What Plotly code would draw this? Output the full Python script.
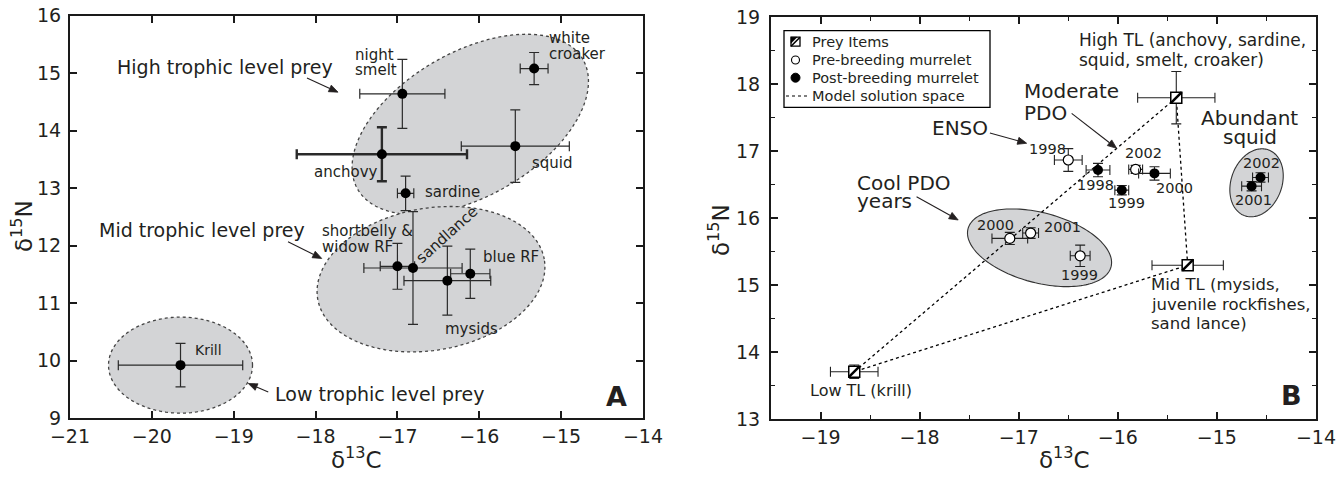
import numpy as np
import plotly.graph_objects as go

W, H = 1337, 481
FONT = "DejaVu Sans"
INK = "#231f20"

# ---------------- Panel A : prey isotope values ----------------
prey_names = ["Krill", "night smelt", "white croaker", "anchovy", "squid", "sardine",
              "shortbelly & widow RF", "sandlance", "mysids", "blue RF"]
prey_d13c = [-19.65, -16.94, -15.33, -17.19, -15.56, -16.90, -17.00, -16.81, -16.39, -16.11]
prey_d13c_sd = [0.76, 0.52, 0.17, 1.04, 0.66, 0.10, 0.21, 0.60, 0.53, 0.24]
prey_d15n = [9.92, 14.64, 15.08, 13.59, 13.73, 12.91, 11.64, 11.61, 11.39, 11.51]
prey_d15n_sd = [0.38, 0.60, 0.28, 0.47, 0.63, 0.30, 0.40, 0.98, 0.60, 0.43]
prey_bold_err = [False, False, False, True, False, False, False, False, False, False]

# ---------------- Panel B : trophic-level groups and murrelets ----------------
tl_names = ["High TL", "Mid TL", "Low TL"]
tl_d13c = [-15.41, -15.295, -18.66]
tl_d13c_sd = [0.39, 0.36, 0.24]
tl_d15n = [17.80, 15.30, 13.71]
tl_d15n_sd = [0.39, 0.03, 0.10]

pre_years = ["1998", "2002", "2000", "2001", "1999"]
pre_d13c = [-16.50, -15.82, -17.09, -16.88, -16.38]
pre_d13c_sd = [0.14, 0.07, 0.18, 0.08, 0.10]
pre_d15n = [16.87, 16.73, 15.70, 15.78, 15.44]
pre_d15n_sd = [0.17, 0.06, 0.09, 0.08, 0.16]

post_years = ["1998", "1999", "2000", "2002", "2001"]
post_d13c = [-16.20, -15.96, -15.63, -14.56, -14.65]
post_d13c_sd = [0.12, 0.07, 0.16, 0.08, 0.10]
post_d15n = [16.72, 16.42, 16.67, 16.61, 16.48]
post_d15n_sd = [0.10, 0.07, 0.10, 0.07, 0.07]

legend_labels = ["Prey Items", "Pre-breeding murrelet", "Post-breeding murrelet", "Model solution space"]

# axis layout (pixels) ----------------------------------------------------
A_X = (70, 643); A_Y = (15.7, 418.0)
B_X = (771, 1316); B_Y = (17.3, 419.3)
A_XR = [-21, -14]; A_YR = [9, 16]
B_XR = [-19.5, -14]; B_YR = [13, 19]

sxA = (A_X[1] - A_X[0]) / (A_XR[1] - A_XR[0]); syA = (A_Y[1] - A_Y[0]) / (A_YR[1] - A_YR[0])
sxB = (B_X[1] - B_X[0]) / (B_XR[1] - B_XR[0]); syB = (B_Y[1] - B_Y[0]) / (B_YR[1] - B_YR[0])
SCALE = {"x": (sxA, syA), "x2": (sxB, syB)}

def px(x):
    return x / W

def py(y):
    return 1 - y / H

fig = go.Figure()

# ---------- ellipses (group outlines) ----------
def ellipse_path(cx, cy, a_px, b_px, ang, sx, sy, n=160):
    t = np.linspace(0, 2 * np.pi, n)
    th = np.radians(ang)
    dx = a_px * np.cos(t) * np.cos(th) - b_px * np.sin(t) * np.sin(th)
    dy = a_px * np.cos(t) * np.sin(th) + b_px * np.sin(t) * np.cos(th)
    xs = cx + dx / sx
    ys = cy + dy / sy
    return "M " + " L ".join(f"{x:.4f},{y:.4f}" for x, y in zip(xs, ys)) + " Z"

groupsA = [(-16.11, 14.11, 130, 72, 30), (-16.59, 11.415, 115, 71, 10), (-19.65, 9.92, 72, 48, 0)]
groupsB = [(-16.79, 15.56, 74, 35, -15), (-14.60, 16.53, 35, 25.4, 70)]
shapes = []
for cx, cy, a, b, ang in groupsA:
    shapes.append(dict(type="path", path=ellipse_path(cx, cy, a, b, ang, sxA, syA), xref="x", yref="y",
                       fillcolor="#d3d4d6", line=dict(color="#444", width=1.3, dash="dot"), layer="below"))
for cx, cy, a, b, ang in groupsB:
    shapes.append(dict(type="path", path=ellipse_path(cx, cy, a, b, ang, sxB, syB), xref="x2", yref="y2",
                       fillcolor="#d3d4d6", line=dict(color="#333", width=1.1), layer="below"))

# ---------- Panel A traces ----------
for bold in (False, True):
    idx = [i for i, b in enumerate(prey_bold_err) if b == bold]
    fig.add_trace(go.Scatter(
        x=[prey_d13c[i] for i in idx], y=[prey_d15n[i] for i in idx],
        mode="markers", marker=dict(color="black", size=10),
        error_x=dict(type="data", array=[prey_d13c_sd[i] for i in idx], color="#2a2a2a",
                     thickness=2.4 if bold else 1.2, width=5),
        error_y=dict(type="data", array=[prey_d15n_sd[i] for i in idx], color="#2a2a2a",
                     thickness=2.4 if bold else 1.2, width=5),
        showlegend=False, xaxis="x", yaxis="y"))

# ---------- Panel B traces ----------
tri_x = [tl_d13c[2], tl_d13c[0], tl_d13c[1], tl_d13c[2]]
tri_y = [tl_d15n[2], tl_d15n[0], tl_d15n[1], tl_d15n[2]]
fig.add_trace(go.Scatter(x=tri_x, y=tri_y, mode="lines", name=legend_labels[3], showlegend=False,
                         line=dict(color="black", width=1.3, dash="dot"), xaxis="x2", yaxis="y2"))
fig.add_trace(go.Scatter(x=tl_d13c, y=tl_d15n, mode="markers", name=legend_labels[0], showlegend=False,
                         marker=dict(symbol="square", size=11, color="white", line=dict(color="black", width=1.5)),
                         error_x=dict(type="data", array=tl_d13c_sd, color="#222", thickness=1.1, width=5),
                         error_y=dict(type="data", array=tl_d15n_sd, color="#222", thickness=1.1, width=5),
                         xaxis="x2", yaxis="y2"))
fig.add_trace(go.Scatter(x=tl_d13c, y=tl_d15n, mode="markers", showlegend=False,
                         marker=dict(symbol="line-ne", size=11, color="black", line=dict(color="black", width=2.5)),
                         xaxis="x2", yaxis="y2"))
fig.add_trace(go.Scatter(x=pre_d13c, y=pre_d15n, mode="markers", name=legend_labels[1], showlegend=False,
                         marker=dict(symbol="circle", size=10, color="white", line=dict(color="black", width=1.2)),
                         error_x=dict(type="data", array=pre_d13c_sd, color="#222", thickness=1.1, width=5),
                         error_y=dict(type="data", array=pre_d15n_sd, color="#222", thickness=1.1, width=5),
                         xaxis="x2", yaxis="y2"))
fig.add_trace(go.Scatter(x=post_d13c, y=post_d15n, mode="markers", name=legend_labels[2], showlegend=False,
                         marker=dict(symbol="circle", size=10, color="black"),
                         error_x=dict(type="data", array=post_d13c_sd, color="#222", thickness=1.1, width=5),
                         error_y=dict(type="data", array=post_d15n_sd, color="#222", thickness=1.1, width=5),
                         xaxis="x2", yaxis="y2"))

# ---------- legend box (drawn in paper space) ----------
LG = dict(x0=784, x1=990, y0=30.7, y1=107.3, rows=[41.7, 60.0, 77.7, 96.0], sym_x=795.5, text_x=810)
shapes.append(dict(type="rect", xref="paper", yref="paper", x0=px(LG["x0"]), x1=px(LG["x1"]),
                   y0=py(LG["y1"]), y1=py(LG["y0"]), line=dict(color="black", width=1.3), fillcolor="white",
                   layer="above"))
r0, r1, r2, r3 = LG["rows"]
sx0 = LG["sym_x"]
# prey items symbol: hatched square
shapes.append(dict(type="rect", xref="paper", yref="paper", x0=px(sx0 - 4.5), x1=px(sx0 + 4.5),
                   y0=py(r0 + 4.5), y1=py(r0 - 4.5), line=dict(color="black", width=1.3), fillcolor="white",
                   layer="above"))
shapes.append(dict(type="path", xref="paper", yref="paper",
                   path=f"M {px(sx0-4.5)},{py(r0-4.5)} L {px(sx0+1.5)},{py(r0-4.5)} L {px(sx0-4.5)},{py(r0+1.5)} Z",
                   line=dict(color="black", width=0.5), fillcolor="black", layer="above"))
shapes.append(dict(type="line", xref="paper", yref="paper", x0=px(sx0 - 4.5), x1=px(sx0 + 4.5),
                   y0=py(r0 + 4.5), y1=py(r0 - 4.5), line=dict(color="black", width=1.6), layer="above"))
# pre-breeding: open circle
shapes.append(dict(type="circle", xref="paper", yref="paper", x0=px(sx0 - 4), x1=px(sx0 + 4),
                   y0=py(r1 + 4), y1=py(r1 - 4), line=dict(color="black", width=1.1), fillcolor="white",
                   layer="above"))
# post-breeding: filled circle
shapes.append(dict(type="circle", xref="paper", yref="paper", x0=px(sx0 - 4.5), x1=px(sx0 + 4.5),
                   y0=py(r2 + 4.5), y1=py(r2 - 4.5), line=dict(color="black", width=1), fillcolor="black",
                   layer="above"))
# model solution space: dotted line
shapes.append(dict(type="line", xref="paper", yref="paper", x0=px(786), x1=px(808),
                   y0=py(r3), y1=py(r3), line=dict(color="black", width=1.2, dash="dot"), layer="above"))

# ---------- annotations ----------
ann = []

for lbl, ry in zip(legend_labels, LG["rows"]):
    ann.append(dict(text=lbl, x=px(LG["text_x"]), y=py(ry), xref="paper", yref="paper", xanchor="left",
                    yanchor="middle", showarrow=False, font=dict(family=FONT, size=14.5, color=INK)))

def text(lines, x, y, ax="x", size=15, xanchor="left", pitch=16, angle=0, align="left"):
    if isinstance(lines, str):
        lines = [lines]
    n = len(lines)
    yr = "y" if ax == "x" else "y2"
    for i, ln in enumerate(lines):
        ann.append(dict(text=ln, x=x, y=y, xref=ax, yref=yr, yshift=((n - 1) / 2 - i) * pitch,
                        xanchor=xanchor, yanchor="middle", showarrow=False, textangle=angle, align=align,
                        font=dict(family=FONT, size=size, color=INK)))

def arrow(x0, y0, x1, y1, ax="x", head_len=9.0, head_half=3.6):
    """Pointer line with a filled triangular head, drawn as shapes in data space."""
    yr = "y" if ax == "x" else "y2"
    sx, sy = SCALE[ax]
    dxp, dyp = (x1 - x0) * sx, (y1 - y0) * sy
    L = np.hypot(dxp, dyp)
    ux, uy = dxp / L, dyp / L
    bx, by = x1 - ux * head_len / sx, y1 - uy * head_len / sy
    lx, ly = -uy * head_half / sx, ux * head_half / sy
    shapes.append(dict(type="line", xref=ax, yref=yr, x0=x0, y0=y0, x1=bx, y1=by,
                       line=dict(color=INK, width=1.1), layer="above"))
    shapes.append(dict(type="path", xref=ax, yref=yr,
                       path=f"M {x1},{y1} L {bx + lx},{by + ly} L {bx - lx},{by - ly} Z",
                       fillcolor=INK, line=dict(color=INK, width=0.8), layer="above"))

# Panel A
text("High trophic level prey", -20.45, 15.11, size=19)
arrow(-18.105, 14.915, -17.726, 14.67)
text("Mid trophic level prey", -20.674, 12.27, size=19)
arrow(-18.337, 12.065, -17.925, 11.776)
text("Low trophic level prey", -18.517, 9.425, size=19)
arrow(-18.578, 9.453, -18.822, 9.60)
text(["night", "smelt"], -17.543, 15.185, size=15, pitch=14.5)
text(["white", "croaker"], -15.173, 15.48, size=15, pitch=16)
text("anchovy", -18.047, 13.284, size=15)
text("squid", -15.381, 13.43, size=15)
text("sardine", -16.691, 12.935, size=15)
text(["shortbelly &", "widow RF"], -17.946, 12.112, size=15, pitch=15.5)
text("sandlance", -16.398, 12.18, size=15, xanchor="center", angle=-42)
text("blue RF", -15.979, 11.80, size=15)
text("mysids", -16.44, 10.557, size=15)
text("Krill", -19.494, 10.19, size=14)
text("<b>A</b>", -14.324, 9.366, size=27, xanchor="center")

# Panel B
text(["High TL (anchovy, sardine,", "squid, smelt, croaker)"], -16.41, 18.512, ax="x2", size=17, pitch=20)
text(["Moderate", "PDO"], -16.971, 17.743, ax="x2", size=20, pitch=22)
arrow(-16.466, 17.567, -16.012, 17.045, ax="x2")
text("ENSO", -17.897, 17.343, ax="x2", size=20)
arrow(-17.291, 17.273, -16.92, 17.12, ax="x2")
text(["Cool PDO", "years"], -18.654, 16.385, ax="x2", size=20, pitch=18)
arrow(-18.031, 16.322, -17.611, 15.975, ax="x2")
text(["Abundant", "squid"], -14.671, 17.355, ax="x2", size=20, pitch=18.5, xanchor="center", align="center")
for lbl, x, y in [("1998", -16.92, 17.03), ("1998", -16.433, 16.497), ("1999", -16.12, 16.224),
                  ("2002", -15.952, 16.97), ("2000", -15.635, 16.448), ("2002", -14.76, 16.83),
                  ("2001", -14.835, 16.273), ("2000", -17.442, 15.90), ("2001", -16.763, 15.875),
                  ("1999", -16.594, 15.154)]:
    text(lbl, x, y, ax="x2", size=14.5)
text("Low TL (krill)", -19.125, 13.437, ax="x2", size=16)
text(["Mid TL (mysids,", "juvenile rockfishes,", "sand lance)"], -15.686, 14.718, ax="x2", size=16.5, pitch=19.5)
text("<b>B</b>", -14.25, 13.36, ax="x2", size=27, xanchor="center")

# axis titles
for t, tx, ty, ang in [("δ<sup>15</sup>N", 22, 226, -90), ("δ<sup>13</sup>C", 356, 458, 0),
                        ("δ<sup>15</sup>N", 719, 230, -90), ("δ<sup>13</sup>C", 1064, 458, 0)]:
    ann.append(dict(text=t, x=px(tx), y=py(ty), xref="paper", yref="paper", showarrow=False,
                    xanchor="center", yanchor="middle", textangle=ang,
                    font=dict(family=FONT, size=23, color=INK)))

tickfont = dict(family=FONT, size=19, color=INK)
common = dict(showgrid=False, zeroline=False, showline=True, linecolor="#1a1a1a", linewidth=2,
              mirror="ticks", ticks="inside", tickcolor="#1a1a1a", tickwidth=1.5, ticklen=7,
              tickfont=tickfont, dtick=1, type="linear", automargin=False)

fig.update_layout(
    width=W, height=H, margin=dict(l=0, r=0, t=0, b=0, autoexpand=False),
    paper_bgcolor="white", plot_bgcolor="white",
    shapes=shapes, annotations=ann, showlegend=False,
    xaxis=dict(domain=[px(A_X[0]), px(A_X[1])], range=A_XR, anchor="y", ticklabelstandoff=0, **common),
    yaxis=dict(domain=[py(A_Y[1]), py(A_Y[0])], range=A_YR, anchor="x", ticklabelstandoff=3, **common),
    xaxis2=dict(domain=[px(B_X[0]), px(B_X[1])], range=B_XR, anchor="y2", ticklabelstandoff=0,
                minor=dict(dtick=0.5, ticks="inside", ticklen=4, tickcolor="#1a1a1a", tickwidth=1.2), **common),
    yaxis2=dict(domain=[py(B_Y[1]), py(B_Y[0])], range=B_YR, anchor="x2", ticklabelstandoff=5,
                minor=dict(dtick=0.5, ticks="inside", ticklen=4, tickcolor="#1a1a1a", tickwidth=1.2), **common),
)

fig.write_html("out.html", post_script="document.body.style.margin='0px';",
               config={"displayModeBar": False})
